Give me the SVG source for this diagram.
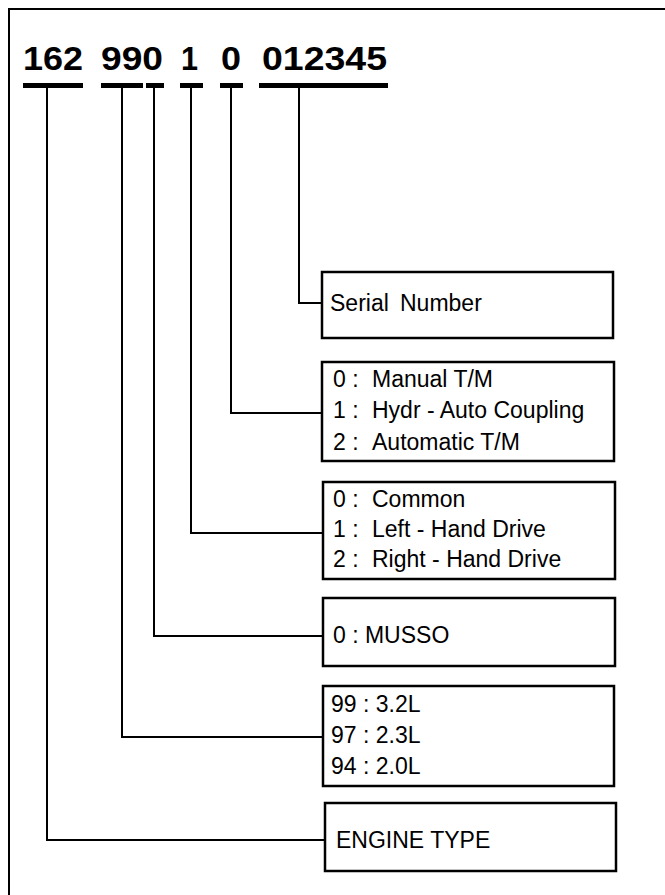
<svg xmlns="http://www.w3.org/2000/svg" width="665" height="895" viewBox="0 0 665 895">
<style>
.frame{fill:none;stroke:#000;stroke-width:2}
.bar{stroke:#000;stroke-width:5}
.wire{fill:none;stroke:#000;stroke-width:2}
.box{fill:#fff;stroke:#000;stroke-width:2.5}
.lbl{font-family:"Liberation Sans",Arial,sans-serif;font-size:23px;fill:#000}
.code{font-family:"Liberation Sans",Arial,sans-serif;font-size:34px;font-weight:bold;fill:#000}
</style>
<rect width="665" height="895" fill="#fff"/>
<path class="frame" d="M9,896 V9 H666"/>
<g id="code">
<text class="code" x="23" y="70" textLength="60" lengthAdjust="spacingAndGlyphs">162</text>
<text class="code" x="101" y="70" textLength="62" lengthAdjust="spacingAndGlyphs">990</text>
<text class="code" x="181" y="70" textLength="17" lengthAdjust="spacingAndGlyphs">1</text>
<text class="code" x="221" y="70" textLength="20" lengthAdjust="spacingAndGlyphs">0</text>
<text class="code" x="262" y="70" textLength="125" lengthAdjust="spacingAndGlyphs">012345</text>
</g>
<g id="bars">
<line class="bar" x1="23" y1="85.5" x2="83" y2="85.5"/>
<line class="bar" x1="101" y1="85.5" x2="143" y2="85.5"/>
<line class="bar" x1="146" y1="85.5" x2="164" y2="85.5"/>
<line class="bar" x1="180" y1="85.5" x2="203" y2="85.5"/>
<line class="bar" x1="220" y1="85.5" x2="243" y2="85.5"/>
<line class="bar" x1="259" y1="85.5" x2="388" y2="85.5"/>
</g>
<g id="connectors">
<path class="wire" d="M299,86 V303 H322"/>
<path class="wire" d="M231,86 V413 H322"/>
<path class="wire" d="M191,86 V533 H323"/>
<path class="wire" d="M154,86 V636 H323"/>
<path class="wire" d="M122,86 V737 H323"/>
<path class="wire" d="M47,86 V840 H325"/>
</g>
<g id="serial">
<rect class="box" x="322" y="272" width="291" height="66"/>
<text class="lbl" x="330" y="311">Serial</text>
<text class="lbl" x="400" y="311">Number</text>
</g>
<g id="transmission">
<rect class="box" x="322" y="362" width="292" height="99"/>
<text class="lbl" x="333" y="387">0 :</text><text class="lbl" x="372" y="387">Manual T/M</text>
<text class="lbl" x="333" y="418">1 :</text><text class="lbl" x="372" y="418">Hydr - Auto Coupling</text>
<text class="lbl" x="333" y="450">2 :</text><text class="lbl" x="372" y="450">Automatic T/M</text>
</g>
<g id="drive">
<rect class="box" x="323" y="482" width="292" height="97"/>
<text class="lbl" x="333" y="507">0 :</text><text class="lbl" x="372" y="507">Common</text>
<text class="lbl" x="333" y="537">1 :</text><text class="lbl" x="372" y="537">Left - Hand Drive</text>
<text class="lbl" x="333" y="567">2 :</text><text class="lbl" x="372" y="567">Right - Hand Drive</text>
</g>
<g id="model">
<rect class="box" x="323" y="598" width="292" height="68"/>
<text class="lbl" x="333" y="643">0 : MUSSO</text>
</g>
<g id="displacement">
<rect class="box" x="323" y="686" width="291" height="100"/>
<text class="lbl" x="331" y="712">99 : 3.2L</text>
<text class="lbl" x="331" y="743">97 : 2.3L</text>
<text class="lbl" x="331" y="774">94 : 2.0L</text>
</g>
<g id="engine">
<rect class="box" x="325" y="803" width="291" height="68"/>
<text class="lbl" x="336" y="848">ENGINE TYPE</text>
</g>
</svg>
